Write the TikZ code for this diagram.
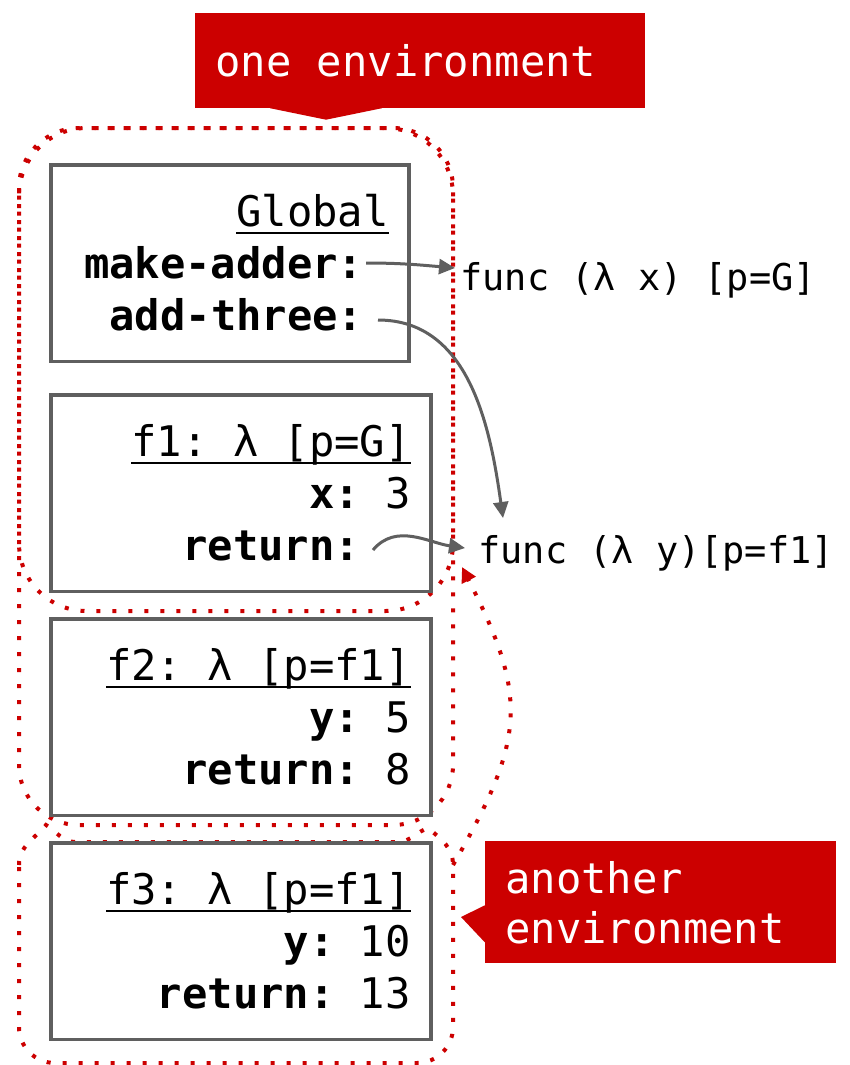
\documentclass[tikz,border=0pt]{standalone}
\usepackage{amsmath}
\usepackage{fontspec}
\setmonofont{DejaVu Sans Mono}
\usepackage{xcolor}
\usepackage{tikz}
\usetikzlibrary{
    arrows.meta,
    positioning,
    calc
}

\definecolor{envred}{HTML}{CC0000}
\definecolor{framegray}{HTML}{5F5F5F}

\newcommand{\framename}[1]{\underline{\smash[b]{#1}}}

\begin{document}
\begin{tikzpicture}[
  framebox/.style={rectangle, draw=framegray, line width=0.07cm, fill=white,
    text width=6.8cm, minimum height=3.93cm, inner xsep=0.4cm,
    align=flush right, font=\ttfamily\fontsize{24}{29.6}\selectfont},
  envlabel/.style={rectangle, fill=envred, text=white,
    inner xsep=0.4cm, inner ysep=0pt, align=flush left,
    font=\ttfamily\fontsize{24}{28.5}\selectfont},
  funclbl/.style={inner sep=0pt, font=\ttfamily\fontsize{21}{25}\selectfont},
  envline/.style={draw=envred, line width=0.08cm,
    dash pattern=on 0.08cm off 0.24cm},
  ptr/.style={draw=framegray, line width=0.06cm,
    -{Triangle[length=0.32cm, width=0.3cm]}},
  node distance=0.48cm
]
\useasboundingbox (0,0) rectangle (17,-21.3);

%% ── Environments (dotted outlines) ───────────────────────────────────────────
\draw[envline, rounded corners=1.35cm] (0.38,-2.56) rectangle (9.06,-12.22);
\draw[envline, rounded corners=1.2cm]  (0.38,-2.56) rectangle (9.06,-16.5);
\draw[envline] (0.38,-17.3) to[out=90,in=-130] (0.92,-16.5)
    to[out=-30,in=180] (1.5,-16.84) -- (8.0,-16.84)
    to[out=10,in=-160] (8.56,-16.56) to[out=-40,in=90] (9.06,-17.3)
    -- (9.06,-20.54) arc[start angle=0, end angle=-90, radius=0.72cm]
    -- (1.1,-21.26) arc[start angle=-90, end angle=-180, radius=0.72cm]
    -- cycle;

%% ── Frames ───────────────────────────────────────────────────────────────────
\node[framebox, text width=6.36cm, anchor=north west] (glob) at (0.98,-3.26)
    {\framename{Global}\\
     \textbf{make-adder:}\hphantom{0}\\
     \textbf{add-three:}\hphantom{0}};
\node[framebox, below=0.6cm of glob.south west, anchor=north west] (f1)
    {\framename{f1: λ [p=G]}\\
     \textbf{x:} 3\\
     \textbf{return:}\hphantom{00}};
\node[framebox, below=of f1] (f2)
    {\framename{f2: λ [p=f1]}\\
     \textbf{y:} 5\\
     \textbf{return:} 8};
\node[framebox, below=of f2] (f3)
    {\framename{f3: λ [p=f1]}\\
     \textbf{y:} 10\\
     \textbf{return:} 13};

%% ── Function values ──────────────────────────────────────────────────────────
\node[funclbl, anchor=base west] (fx) at (9.2,-5.8)    {func (λ x) [p=G]};
\node[funclbl, anchor=base west] (fy) at (9.56,-11.26) {func (λ y)[p=f1]};

\coordinate (madd) at (7.32,-5.26);
\coordinate (addt) at (7.56,-6.4);
\coordinate (ret1) at (7.46,-11.0);

\draw[ptr] (madd) to[out=0,in=175] ([shift={(-0.1,0.44)}]fx.base west);
\draw[ptr] (addt) to[out=0,in=98]  ([shift={(0.5,0.9)}]fy.base west);
\draw[ptr] (ret1) to[out=50,in=172] ([shift={(-0.26,0.3)}]fy.base west);

%% ── Parent link of the last environment ─────────────────────────────────────
\coordinate (env3top) at (9.06,-17.3);
\coordinate (env1tip) at (9.24,-11.34);
\draw[envline, -{Triangle[length=0.3cm, width=0.3cm]}]
    (env3top) to[out=60, in=-63, looseness=1.25] (env1tip);

%% ── Callouts ─────────────────────────────────────────────────────────────────
\node[envlabel, text width=8.2cm, minimum height=1.9cm, anchor=north west]
    (one) at (3.9,-0.26) {one environment};
\fill[envred] ($(one.south west)+(1.5,0.01)$)
    -- ($(one.south west)+(2.62,-0.22)$)
    -- ($(one.south west)+(3.74,0.01)$) -- cycle;

\node[envlabel, text width=6.22cm, minimum height=2.44cm, anchor=north west]
    (another) at (9.7,-16.82) {another\\environment};
\fill[envred] ($(another.north west)+(0.01,-1.28)$)
    -- ($(another.north west)+(-0.48,-1.52)$)
    -- ($(another.north west)+(0.01,-2.04)$) -- cycle;

\end{tikzpicture}
\end{document}
